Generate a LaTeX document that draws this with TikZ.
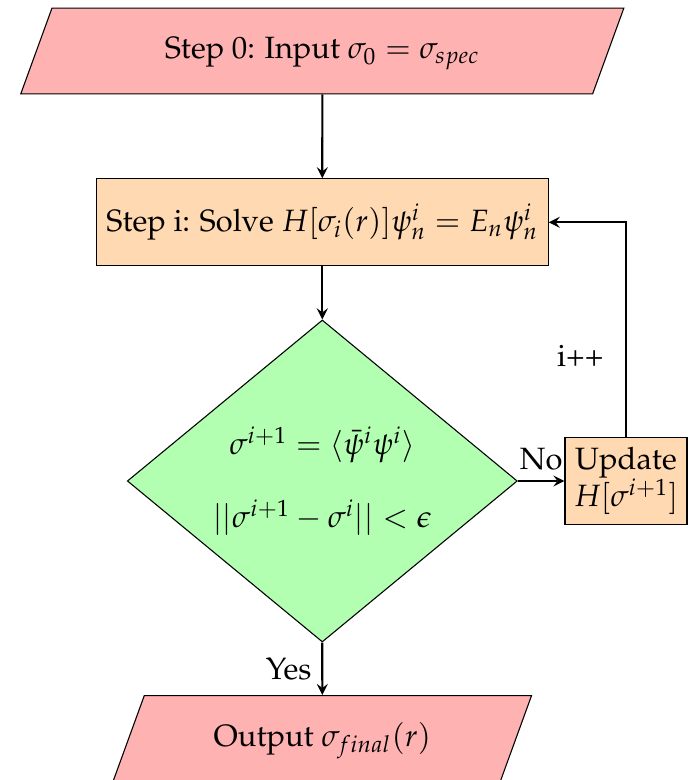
\documentclass[tikz,border=0pt,11pt]{standalone}
\usepackage[T1]{fontenc}
\usepackage{mathpazo}
\usetikzlibrary{shapes.geometric,arrows}

\begin{document}
\begin{tikzpicture}[font=\fontsize{11.4pt}{13.7pt}\selectfont,
	io/.style={trapezium, trapezium left angle=70, trapezium right angle=110, trapezium stretches body, inner ysep=0pt, text height=0.66cm, text depth=0.455cm, text centered, draw=black, fill=red!30},
	process/.style={rectangle, minimum width=5.81cm, minimum height=1.13cm, text centered, draw=black, fill=orange!30},
	decision/.style={diamond, aspect=1.2, inner sep=1pt, minimum width=5.07cm, minimum height=4.186cm, text centered, align=center, draw=black, fill=green!30},
	arrow/.style={thick,->,>=stealth}]
	\useasboundingbox (0,0) rectangle (9.009,10.14);
	
	% Các khối của lưu đồ
	\node[io, minimum width=7.84cm] (start) at (4.19,9.477) {Step 0: Input $\sigma_0 = \sigma_{spec}$};
	\node[process] (solve) at (4.19,7.25) {Step i: Solve $H[\sigma_i(r)]\psi^i_n = E_n\psi^i_n$};
	\node[decision] (check) at (4.19,3.887) {$\sigma^{i+1} = \langle\bar{\psi}^i\psi^i\rangle$\\[4.7mm] $||\sigma^{i+1}-\sigma^i|| < \epsilon$};
	\node[process, minimum width=1.586cm, inner sep=2pt, align=center] (update) at (8.138,3.887) {Update\\ $H[\sigma^{i+1}]$};
	\node[io, minimum width=5.44cm] (stop) at (4.19,0.54) {Output $\sigma_{final}(r)$};
	
	% Các mũi tên
	\draw[arrow] (start) -- (solve);
	\draw[arrow] (solve) -- (check);
	\draw[arrow] (check) -- node[above] {No} (update);
	\draw[arrow] (check) -- node[left] {Yes} (stop);
	\draw[arrow] (update) |- node[pos=0.19, left, xshift=-1.5mm] {i++} (solve);
\end{tikzpicture}
\end{document}
